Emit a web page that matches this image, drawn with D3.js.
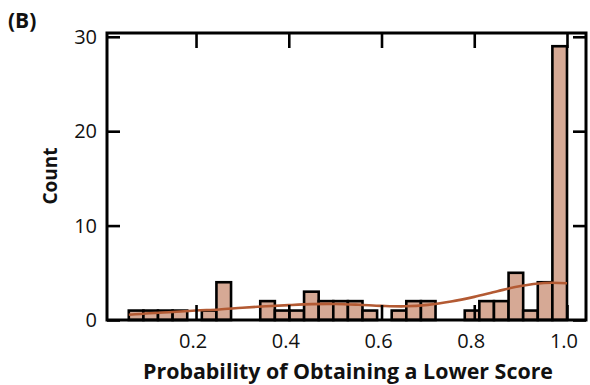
<!DOCTYPE html>
<html>
<head>
<meta charset="utf-8">
<script src="https://cdn.jsdelivr.net/npm/d3@7"></script>
<style>
  html, body { margin: 0; padding: 0; background: #fff; }
  svg { display: block; }
  text { font-family: "Open Sans", "Noto Sans", sans-serif; fill: #111; }
</style>
</head>
<body>
<svg id="chart" width="590" height="385"></svg>
<script>
// Histogram of probabilities: 30 equal-width bins ending at 1.0
const binStart = 0.055;
const binWidth = 0.0315;
const binCounts = [1, 1, 1, 1, 0, 1, 4, 0, 0, 2,
                   1, 1, 3, 2, 2, 2, 1, 0, 1, 2,
                   2, 0, 0, 1, 2, 2, 5, 1, 4, 29];

// Smoothed density curve, scaled to counts
const curveX = [0.055, 0.10, 0.15, 0.20, 0.25, 0.30, 0.35, 0.40, 0.45, 0.50,
                0.55, 0.60, 0.65, 0.70, 0.75, 0.80, 0.85, 0.90, 0.95, 1.00];
const curveY = [0.55, 0.72, 0.85, 1.0, 1.12, 1.3, 1.45, 1.58, 1.68, 1.7,
                1.62, 1.5, 1.45, 1.6, 1.95, 2.45, 3.05, 3.6, 3.92, 3.9];

const xTicks = [0.2, 0.4, 0.6, 0.8, 1.0];
const yTicks = [0, 10, 20, 30];

const svg = d3.select("#chart");
const plotLeft = 107, plotRight = 586, plotTop = 33, plotBottom = 320;

const x = d3.scaleLinear().domain([0.008, 1.041]).range([plotLeft, plotRight]);
const y = d3.scaleLinear().domain([0, 30.4]).range([plotBottom, plotTop]);

const bins = binCounts.map((c, i) => ({
  x0: binStart + i * binWidth,
  x1: binStart + (i + 1) * binWidth,
  count: c
})).filter(d => d.count > 0);

// bars
svg.append("g").selectAll("rect").data(bins).join("rect")
  .attr("x", d => x(d.x0))
  .attr("y", d => y(d.count))
  .attr("width", d => x(d.x1) - x(d.x0))
  .attr("height", d => y(0) - y(d.count))
  .attr("fill", "#d6a995")
  .attr("stroke", "#000")
  .attr("stroke-width", 2.6);

// density curve
const line = d3.line()
  .x(d => x(d[0]))
  .y(d => y(d[1]))
  .curve(d3.curveCatmullRom.alpha(0.5));
svg.append("path")
  .datum(curveX.map((v, i) => [v, curveY[i]]))
  .attr("d", line)
  .attr("fill", "none")
  .attr("stroke", "#b35a33")
  .attr("stroke-width", 2.6);

// mirrored axes with inward ticks
const tickLen = 15;
const axisBottom = d3.axisBottom(x).tickValues(xTicks).tickSize(-tickLen).tickFormat("");
const axisTop = d3.axisTop(x).tickValues(xTicks).tickSize(-tickLen).tickFormat("");
const axisLeft = d3.axisLeft(y).tickValues(yTicks).tickSize(-13).tickFormat("");
const axisRight = d3.axisRight(y).tickValues(yTicks).tickSize(-13).tickFormat("");

function styleAxis(g) {
  g.select(".domain").remove();
  g.selectAll(".tick line").attr("stroke", "#000").attr("stroke-width", 2.6);
}
svg.append("g").attr("transform", `translate(0,${plotBottom})`).call(axisBottom).call(styleAxis);
svg.append("g").attr("transform", `translate(0,${plotTop})`).call(axisTop).call(styleAxis);
svg.append("g").attr("transform", `translate(${plotLeft},0)`).call(axisLeft).call(styleAxis);
svg.append("g").attr("transform", `translate(${plotRight},0)`).call(axisRight).call(styleAxis);

// frame
svg.append("rect")
  .attr("x", plotLeft).attr("y", plotTop)
  .attr("width", plotRight - plotLeft).attr("height", plotBottom - plotTop)
  .attr("fill", "none").attr("stroke", "#000").attr("stroke-width", 3);

// tick labels
svg.append("g").selectAll("text").data(xTicks).join("text")
  .attr("x", d => x(d) - 3)
  .attr("y", plotBottom + 28)
  .attr("text-anchor", "middle")
  .attr("font-size", 20)
  .text(d => d3.format(".1f")(d));

svg.append("g").selectAll("text").data(yTicks).join("text")
  .attr("x", plotLeft - 10)
  .attr("y", d => y(d) + 7)
  .attr("text-anchor", "end")
  .attr("font-size", 20)
  .text(d => d);

// axis titles
svg.append("text")
  .attr("x", 348).attr("y", 379)
  .attr("text-anchor", "middle")
  .attr("font-size", 21)
  .attr("font-weight", "bold")
  .attr("textLength", 410)
  .attr("lengthAdjust", "spacingAndGlyphs")
  .text("Probability of Obtaining a Lower Score");

svg.append("text")
  .attr("transform", "translate(57,176) rotate(-90)")
  .attr("text-anchor", "middle")
  .attr("font-size", 19)
  .attr("font-weight", "bold")
  .text("Count");

svg.append("text")
  .attr("x", 8).attr("y", 28)
  .attr("font-size", 21)
  .attr("font-weight", "bold")
  .text("(B)");
</script>
</body>
</html>
